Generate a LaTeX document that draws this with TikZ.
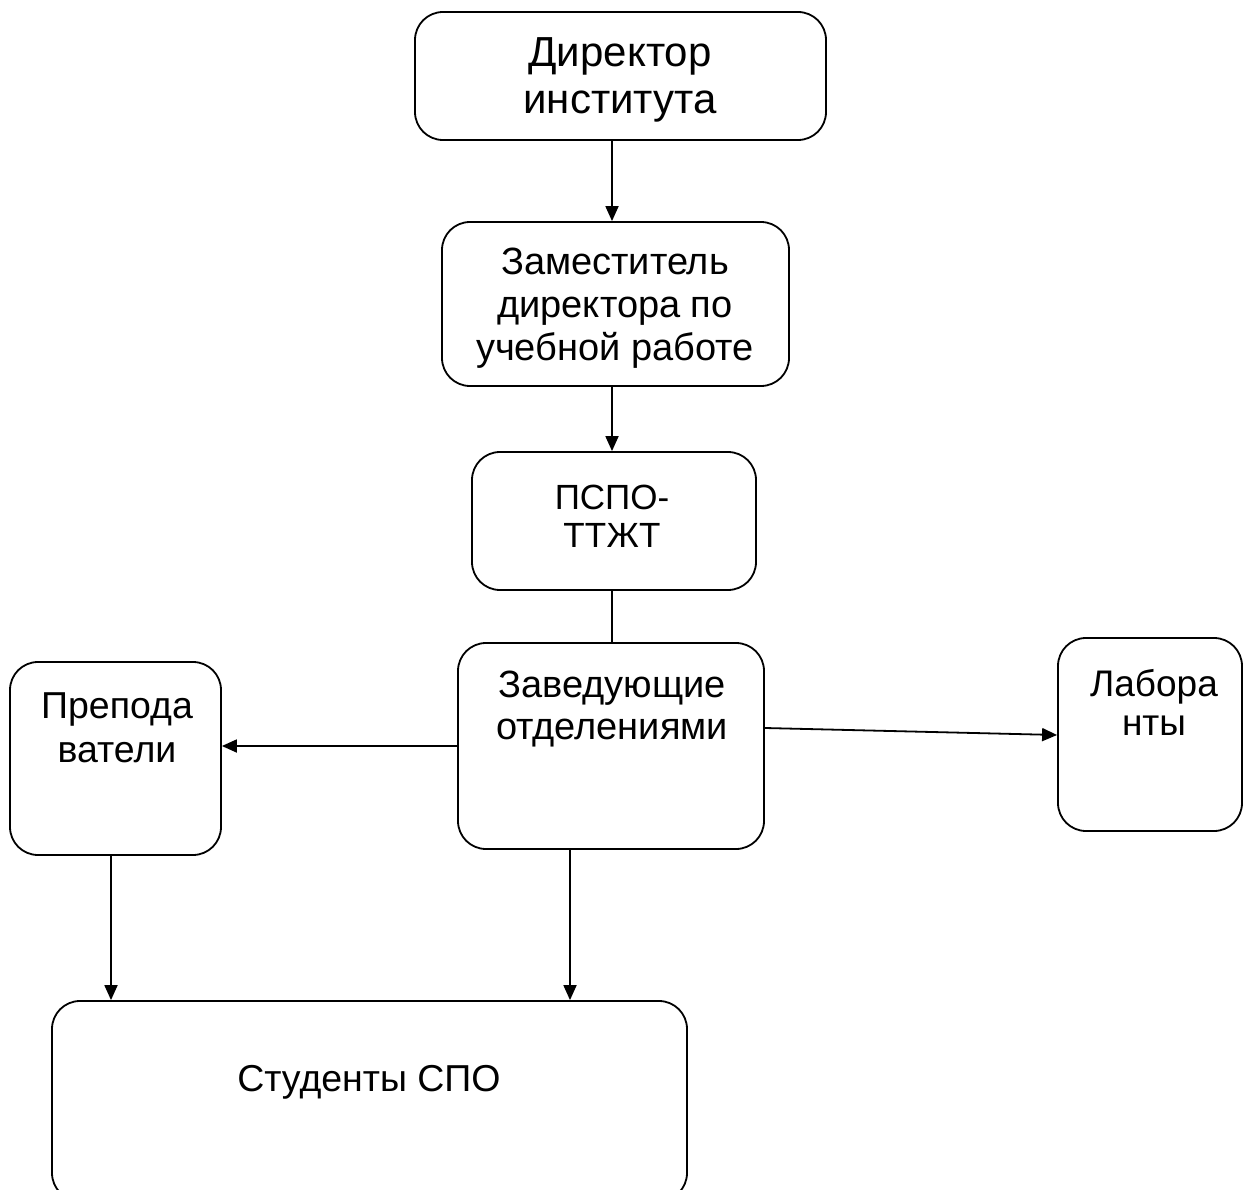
\documentclass[tikz,border=0pt]{standalone}
\usepackage{fontspec}
\setmainfont{Liberation Sans}
\usetikzlibrary{arrows.meta}
\tikzset{
  box/.style={draw=black, line width=1.8pt, rounded corners=28pt, inner sep=0pt},
  lbl/.style={align=center, inner sep=0pt, text=black},
  arr/.style={line width=1.8pt, -{Triangle[length=15pt,width=13pt]}},
  ln/.style={line width=1.8pt}
}
\begin{document}
\begin{tikzpicture}[x=1pt,y=-1pt]
\useasboundingbox (0,0) rectangle (1243,1190);
\fill[white] (0,0) rectangle (1243,1190);
\clip (0,0) rectangle (1243,1190);
% boxes
\node[box, minimum width=411pt, minimum height=128pt] (dir) at (620.5,76) {};
\node[box, minimum width=347pt, minimum height=164pt] (zam) at (615.5,304) {};
\node[box, minimum width=284pt, minimum height=138pt] (pspo) at (614,521) {};
\node[box, minimum width=306pt, minimum height=206pt] (zav) at (611,746) {};
\node[box, minimum width=211pt, minimum height=193pt] (prep) at (115.5,758.5) {};
\node[box, minimum width=184pt, minimum height=193pt] (lab) at (1150,734.5) {};
\node[box, minimum width=635pt, minimum height=200pt] (stud) at (369.5,1101) {};
% labels
\node[lbl, font=\fontsize{42}{47}\selectfont] (tdir) at (620,80) {Директор\\института};
\node[lbl, font=\fontsize{38}{43}\selectfont] (tzam) at (615,308) {Заместитель\\директора по\\учебной работе};
\node[lbl, font=\fontsize{35}{38}\selectfont] (tpspo) at (612,516) {ПСПО-\\ТТЖТ};
\node[lbl, font=\fontsize{38}{42}\selectfont] (tzav) at (612,709) {Заведующие\\отделениями};
\node[lbl, font=\fontsize{37.5}{44}\selectfont] (tprep) at (117,728) {Препода\\ватели};
\node[lbl, font=\fontsize{37}{39}\selectfont] (tlab) at (1154,702) {Лабора\\нты};
\node[lbl, font=\fontsize{37.5}{40}\selectfont] (tstud) at (369,1082) {Студенты СПО};
% connectors
\coordinate (spine) at (612,0);
\draw[arr] (dir.south -| spine) -- (zam.north -| spine);
\draw[arr] (zam.south -| spine) -- (pspo.north -| spine);
\draw[ln] (pspo.south -| spine) -- (zav.north -| spine);
\draw[arr] (zav.west) -- (prep.east |- zav.west);
\draw[arr] (zav.east |- 0,728) -- (lab.west |- 0,735);
\draw[arr] (prep.south -| 111,0) -- (stud.north -| 111,0);
\draw[arr] (zav.south -| 570,0) -- (stud.north -| 570,0);
\end{tikzpicture}
\end{document}
